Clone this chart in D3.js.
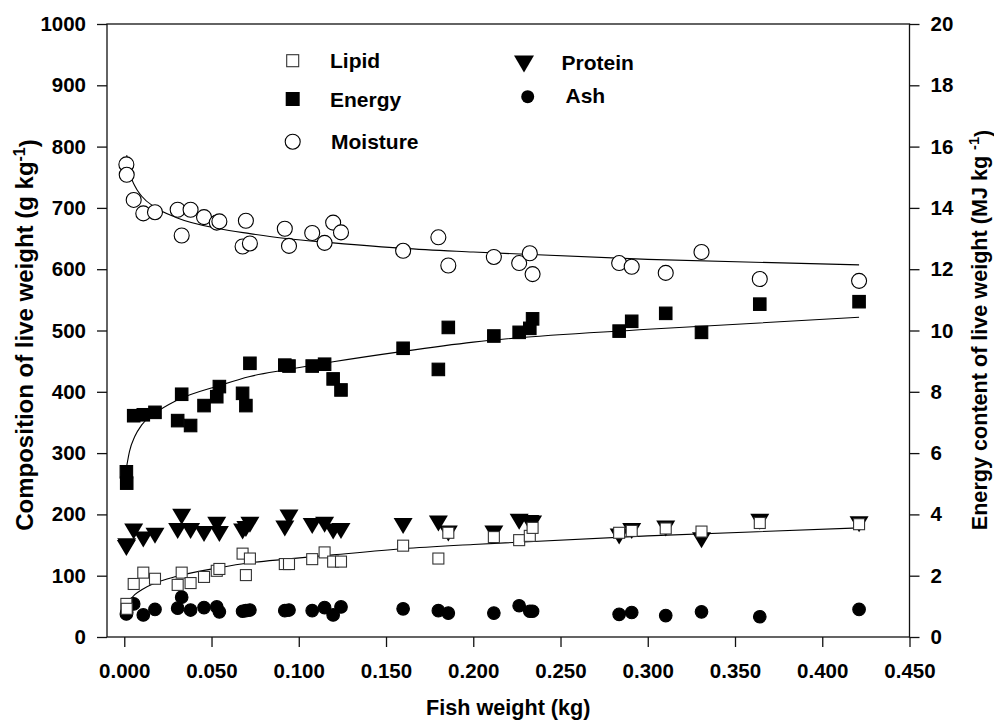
<html>
  <head>
    <meta charset='utf-8'>
    <script src='https://d3js.org/d3.v7.min.js'></script>
    <style>
      body { margin: 0; background: #fff; }
      text { font-family: 'Liberation Sans', Arial, sans-serif; font-weight: bold; fill: #000; }
    </style>
  </head>
  <body>
    <div id='chart'></div>
    <script>
        // fish weight (kg) of each sampled fish
        const fishWeight = [0.0012, 0.0014, 0.0054, 0.0109, 0.0176, 0.0306, 0.0329, 0.038, 0.0457, 0.053, 0.0545,
                            0.0678, 0.0697, 0.072, 0.092, 0.0944, 0.1077, 0.1148, 0.1197, 0.1242, 0.1598, 0.18,
                            0.1857, 0.2118, 0.2263, 0.2324, 0.234, 0.2836, 0.2908, 0.3103, 0.3308, 0.3642, 0.4211];
        // composition (g kg-1)
        const moisture = [771, 754, 713, 691, 693, 697, 655, 697, 685, 676, 678,
                          637, 679, 642, 666, 638, 659, 643, 676, 660, 630, 652,
                          606, 620, 610, 626, 592, 610, 604, 594, 628, 584, 581];
        const protein = [145, 148, 172, 159, 165, 173, 196, 173, 168, 183, 168,
                         172, 176, 183, 177, 195, 181, 183, 172, 173, 181, 185,
                         169, 169, 188, 186, 185, 164, 173, 177, 158, 188, 184];
        const lipid = [54, 46, 86.5, 105, 95, 85, 105, 88, 98, 108, 111,
                       136, 101, 128, 119, 119, 127, 138, 123, 123, 149, 128,
                       170, 163, 158, 165, 178, 170, 173, 177, 172, 186, 184];
        const ash = [37.5, 40, 54, 36, 45, 47, 65, 44, 48, 49, 41,
                     42, 43, 44, 43, 44, 43, 48, 36, 49, 46, 43,
                     39, 39, 51, 42, 42, 37, 40, 35, 41, 33, 45];
        // energy content (MJ kg-1), right axis
        const energy = [5.39, 5.02, 7.22, 7.25, 7.33, 7.06, 7.92, 6.90, 7.55, 7.84, 8.17,
                        7.95, 7.55, 8.93, 8.87, 8.84, 8.84, 8.90, 8.42, 8.06, 9.42, 8.73,
                        10.10, 9.82, 9.94, 10.07, 10.38, 9.98, 10.30, 10.56, 9.94, 10.86, 10.94];

        // fitted curves
        const fitWeight = [0.0014, 0.003, 0.006, 0.01, 0.0176, 0.03, 0.0543, 0.072, 0.0928, 0.1197, 0.1598, 0.2, 0.3, 0.4211];
        const fitMoisture = [786, 759, 736, 719, 701, 684, 666, 658, 650, 643, 634, 628, 616, 607];
        const fitEnergy = [5.58, 6.06, 6.54, 6.92, 7.30, 7.72, 8.20, 8.50, 8.72, 8.98, 9.32, 9.62, 10.04, 10.43];
        const fitLipid = [50, 59, 69, 77, 88, 99, 113, 121, 127, 134, 144, 151, 165, 178];

        const xTicks = d3.range(0, 0.4501, 0.05);
        const yLeftTicks = d3.range(0, 1001, 100);
        const yRightTicks = d3.range(0, 21, 2);

        const W = 994, H = 720;
        const margin = { left: 107, right: 84.5, top: 24, bottom: 83 };

        var svg = d3.select('#chart').append('svg')
                    .attr('width', W)
                    .attr('height', H);

        const x = d3.scaleLinear()
                    .domain([-0.0099, 0.45])
                    .range([margin.left, W - margin.right]);
        const yL = d3.scaleLinear()
                     .domain([0, 1000])
                     .range([H - margin.bottom, margin.top]);
        const yR = d3.scaleLinear()
                     .domain([0, 20])
                     .range([H - margin.bottom, margin.top]);

        // axes
        var axis_g = svg.append('g');
        function styleAxis(g) {
            g.select('.domain').remove();
            g.selectAll('line').attr('stroke', '#111').attr('stroke-width', 1.3);
            g.selectAll('text').attr('font-size', '20.5px').attr('fill', '#000')
             .attr('font-family', "'Liberation Sans', Arial, sans-serif").attr('font-weight', 'bold');
        }
        axis_g.append('g')
              .attr('transform', 'translate(0,' + (H - margin.bottom) + ')')
              .call(d3.axisBottom(x).tickValues(xTicks).tickFormat(d3.format('.3f')).tickSize(10).tickPadding(16))
              .call(styleAxis);
        axis_g.append('g')
              .attr('transform', 'translate(' + margin.left + ',0)')
              .call(d3.axisLeft(yL).tickValues(yLeftTicks).tickFormat(d3.format('d')).tickSize(10).tickPadding(11))
              .call(styleAxis);
        axis_g.append('g')
              .attr('transform', 'translate(' + (W - margin.right) + ',0)')
              .call(d3.axisRight(yR).tickValues(yRightTicks).tickFormat(d3.format('d')).tickSize(10).tickPadding(11))
              .call(styleAxis);
        axis_g.append('rect')
              .attr('x', margin.left).attr('y', margin.top)
              .attr('width', W - margin.right - margin.left)
              .attr('height', H - margin.bottom - margin.top)
              .attr('fill', 'none').attr('stroke', '#111').attr('stroke-width', 1.3);

        // axis titles
        svg.append('text')
           .attr('x', (margin.left + W - margin.right) / 2).attr('y', 715)
           .attr('text-anchor', 'middle').attr('font-size', '21.6px')
           .text('Fish weight (kg)');

        var ttlL = svg.append('text')
                      .attr('transform', 'translate(33,335) rotate(-90)')
                      .attr('text-anchor', 'middle').attr('font-size', '24px');
        ttlL.append('tspan').text('Composition of live weight (g kg');
        ttlL.append('tspan').attr('dy', '-0.5em').attr('font-size', '16px').text('-1');
        ttlL.append('tspan').attr('dy', '0.5em').text(')');

        var ttlR = svg.append('text')
                      .attr('transform', 'translate(986.5,330) rotate(-90)')
                      .attr('text-anchor', 'middle').attr('font-size', '21.6px');
        ttlR.append('tspan').text('Energy content of live weight (MJ kg ');
        ttlR.append('tspan').attr('dy', '-0.5em').attr('font-size', '14.5px').text('-1');
        ttlR.append('tspan').attr('dy', '0.5em').text(')');

        // fitted lines
        var line_g = svg.append('g');
        const fitLine = (ys, yScale) => d3.line()
              .x((d, i) => x(fitWeight[i]))
              .y(d => yScale(d))
              .curve(d3.curveMonotoneX)(ys);
        [[fitMoisture, yL], [fitEnergy, yR], [fitLipid, yL]].forEach(f => {
            line_g.append('path')
                  .attr('d', fitLine(f[0], f[1]))
                  .attr('fill', 'none').attr('stroke', '#000').attr('stroke-width', 1.1);
        });

        // marker shapes
        const triDown = (w, h) => 'M' + (-w / 2) + ',' + (-h / 2) + 'L' + (w / 2) + ',' + (-h / 2) + 'L0,' + (h / 2) + 'Z';
        function circles(g, vals, yScale, r, fill) {
            g.selectAll(null).data(vals).enter().append('circle')
             .attr('cx', (d, i) => x(fishWeight[i])).attr('cy', d => yScale(d))
             .attr('r', r).attr('fill', fill).attr('stroke', '#000').attr('stroke-width', 1.1);
        }
        function squares(g, vals, yScale, s, fill) {
            g.selectAll(null).data(vals).enter().append('rect')
             .attr('x', (d, i) => x(fishWeight[i]) - s / 2).attr('y', d => yScale(d) - s / 2)
             .attr('width', s).attr('height', s)
             .attr('fill', fill).attr('stroke', fill == '#fff' ? '#333' : '#000').attr('stroke-width', 1.1);
        }

        var pts_g = svg.append('g');
        circles(pts_g.append('g'), moisture, yL, 7.5, '#fff');
        squares(pts_g.append('g'), energy, yR, 12.5, '#000');
        pts_g.append('g').selectAll(null).data(protein).enter().append('path')
             .attr('d', triDown(19, 16))
             .attr('transform', (d, i) => 'translate(' + x(fishWeight[i]) + ',' + yL(d) + ')')
             .attr('fill', '#000');
        circles(pts_g.append('g'), ash, yL, 6.3, '#000');
        squares(pts_g.append('g'), lipid, yL, 11, '#fff');

        // legend
        var leg = svg.append('g');
        leg.append('rect').attr('x', 286.7).attr('y', 54.7).attr('width', 12).attr('height', 12)
           .attr('fill', '#fff').attr('stroke', '#333').attr('stroke-width', 1.1);
        leg.append('text').attr('x', 330).attr('y', 68).attr('font-size', '21px').text('Lipid');
        leg.append('rect').attr('x', 285.7).attr('y', 92).attr('width', 14).attr('height', 14).attr('fill', '#000');
        leg.append('text').attr('x', 330).attr('y', 106.5).attr('font-size', '21px').text('Energy');
        leg.append('circle').attr('cx', 292.7).attr('cy', 141.7).attr('r', 7.5)
           .attr('fill', '#fff').attr('stroke', '#000').attr('stroke-width', 1.1);
        leg.append('text').attr('x', 331).attr('y', 148.5).attr('font-size', '21px').text('Moisture');
        leg.append('path').attr('d', triDown(20, 17)).attr('transform', 'translate(524,64)').attr('fill', '#000');
        leg.append('text').attr('x', 561.5).attr('y', 69.5).attr('font-size', '21px').text('Protein');
        leg.append('circle').attr('cx', 527.7).attr('cy', 96.7).attr('r', 6.5).attr('fill', '#000');
        leg.append('text').attr('x', 565.5).attr('y', 102.5).attr('font-size', '21px').text('Ash');
    </script>
  </body>
</html>
